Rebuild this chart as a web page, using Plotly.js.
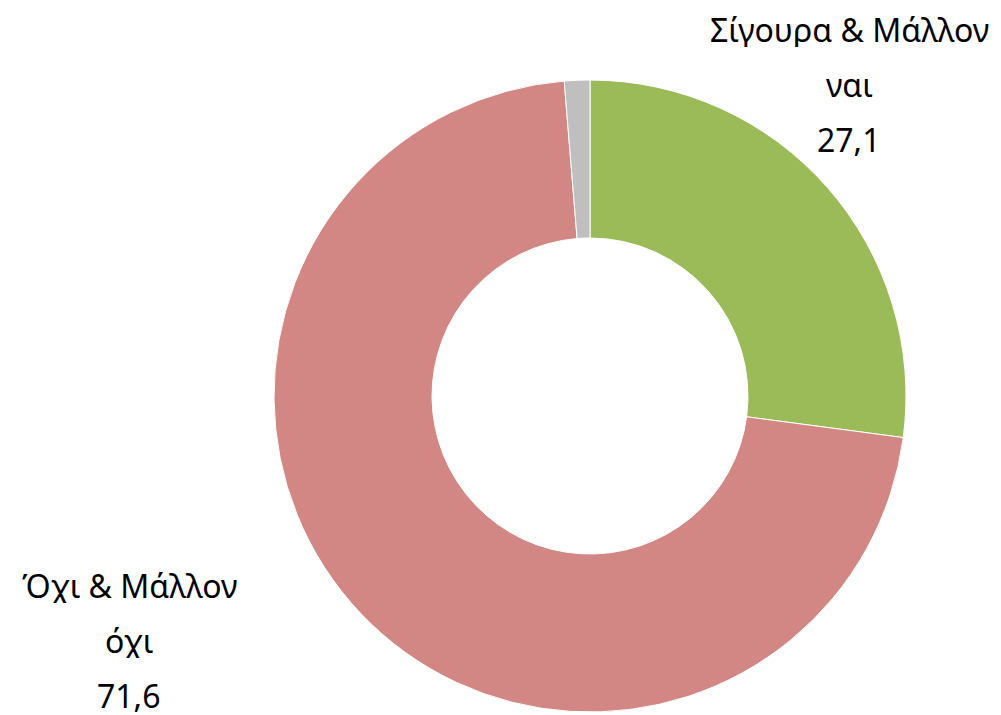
<!DOCTYPE html>
<html>
<head>
<meta charset="utf-8">
<script src="https://cdn.plot.ly/plotly-3.0.1.min.js"></script>
<style>html,body{margin:0;padding:0;background:#fff;}#chart{width:1001px;height:715px;}</style>
</head>
<body>
<div id="chart"></div>
<script>
// Data
var categories = ["Σίγουρα & Μάλλον ναι", "Όχι & Μάλλον όχι", "ΔΓ/ΔΑ"];
var values = [27.1, 71.6, 1.3];
var colors = ["#9BBB59", "#D38784", "#BFBFBF"];
var showLabel = [true, true, false];

// label layout (pixel positions of first line centre) for labelled slices
var labelPos = [[849, 29], [129, 585], null];
var lineGap = 55;
var W = 1001, H = 715;

function fmt(v) { return v.toFixed(1).replace(".", ","); }

var annotations = [];
categories.forEach(function (c, i) {
  if (!showLabel[i]) return;
  var k = c.lastIndexOf(" ");
  var lines = [c.slice(0, k), c.slice(k + 1), fmt(values[i])];
  lines.forEach(function (t, j) {
    annotations.push({
      text: t, showarrow: false,
      xref: "paper", yref: "paper",
      x: labelPos[i][0] / W, y: 1 - (labelPos[i][1] + j * lineGap) / H,
      xanchor: "center", yanchor: "middle",
      height: 36,
      font: { family: "Noto Sans, Open Sans, sans-serif", size: 32, color: "#000" }
    });
  });
});

var trace = {
  type: "pie",
  labels: categories,
  values: values,
  hole: 0.5,
  sort: false,
  direction: "clockwise",
  rotation: 0,
  textinfo: "none",
  hoverinfo: "label+value",
  marker: { colors: colors, line: { color: "#ffffff", width: 1 } },
  domain: { x: [274 / W, 906 / W], y: [1 - 712 / H, 1 - 80 / H] }
};

var layout = {
  width: W, height: H,
  margin: { l: 0, r: 0, t: 0, b: 0 },
  showlegend: false,
  paper_bgcolor: "#ffffff",
  annotations: annotations
};

Plotly.newPlot("chart", [trace], layout, { displayModeBar: false, staticPlot: true });
</script>
</body>
</html>
